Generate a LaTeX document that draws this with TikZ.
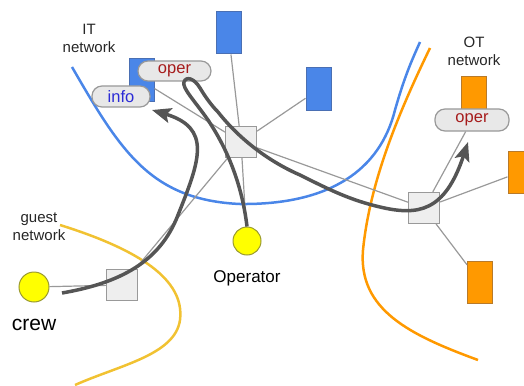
\documentclass[tikz,border=0pt]{standalone}
\usepackage{fontspec}
\setmainfont{Liberation Sans}
\usetikzlibrary{arrows.meta}
\definecolor{itblue}{HTML}{4A86E8}
\definecolor{itblueb}{HTML}{3C6BC0}
\definecolor{otorange}{HTML}{FF9900}
\definecolor{otorangeb}{HTML}{B87A2A}
\definecolor{guestyel}{HTML}{F1C232}
\definecolor{linkgray}{HTML}{999999}
\definecolor{flowgray}{HTML}{555555}
\definecolor{swfill}{HTML}{EEEEEE}
\definecolor{pillfill}{HTML}{E8E8E8}
\definecolor{opertext}{HTML}{A61C1C}
\definecolor{infotext}{HTML}{2B2BD6}
\definecolor{hostyel}{HTML}{FFFF00}
\definecolor{hostborder}{HTML}{9A9A30}
\tikzset{
  switchbox/.style={draw=linkgray, fill=swfill, line width=1.2pt, minimum width=31pt, minimum height=31pt, inner sep=0pt},
  itdev/.style={draw=itblueb!80!gray, fill=itblue, line width=1pt, minimum width=25pt, inner sep=0pt},
  otdev/.style={draw=otorangeb, fill=otorange, line width=1pt, minimum width=25pt, inner sep=0pt},
  pill/.style={draw=linkgray, fill=pillfill, line width=1.2pt, rounded corners=10pt, inner sep=0pt, font=\fontsize{16.5}{18}\selectfont},
  host/.style={circle, draw=hostborder, fill=hostyel, line width=1pt, inner sep=0pt},
  link/.style={draw=linkgray, line width=1.2pt},
  flow/.style={draw=flowgray, line width=3.5pt, -{Stealth[length=19pt,width=15pt,inset=4pt]}},
  netlabel/.style={align=center, font=\fontsize{15}{18}\selectfont, text=black!85},
  boundary/.style={line width=2.5pt}
}
\begin{document}
\begin{tikzpicture}[x=1pt,y=-1pt]
\useasboundingbox (0,0) rectangle (524,385);
% network boundaries
\draw[boundary, itblue] (72,67) .. controls (120,150) and (150,200) .. (240,204)
  .. controls (330,205) and (380,170) .. (395,110) .. controls (405,75) and (412,60) .. (420,42);
\draw[boundary, otorange] (430,48) .. controls (400,110) and (370,180) .. (363,250)
  .. controls (358,310) and (410,335) .. (478,360);
\draw[boundary, guestyel] (60,225) .. controls (140,250) and (185,280) .. (180,320)
  .. controls (175,355) and (120,365) .. (75,385);
% labels
\node[netlabel] (itlab) at (89,38) {IT\\network};
\node[netlabel] (otlab) at (474,51) {OT\\network};
\node[netlabel] (guestlab) at (39,227) {guest\\network};
% devices
\node[itdev, minimum height=42pt] (b1) at (228.5,33) {};
\node[itdev, minimum height=43pt] (b2) at (318.5,89.5) {};
\node[itdev, minimum height=43pt] (b3) at (141.5,80.5) {};
\node[otdev, minimum height=38pt] (o1) at (473.5,96) {};
\node[otdev, minimum height=42pt] (o2) at (520.5,172) {};
\node[otdev, minimum height=42pt] (o3) at (480,282) {};
% switches and hosts
\node[switchbox] (sw1) at (241,142) {};
\node[switchbox] (sw2) at (424,208) {};
\node[switchbox] (sw3) at (122,285) {};
\node[host, minimum size=30pt] (crew) at (34,287) {};
\node[host, minimum size=28pt] (opc) at (247,241) {};
% links
\path[link] (crew) -- (sw3);
\path[link] (sw3) -- (sw1);
\path[link] (sw1) -- (b1);
\path[link] (sw1) -- (b2);
\path[link] (sw1) -- (b3);
\path[link] (sw1) -- (opc);
\path[link] (sw1) -- (sw2);
\path[link] (sw2) -- (o2);
\path[link] (sw2) -- (o3);
% redraw nodes above links
\node[switchbox] at (sw1) {};
\node[switchbox] at (sw3) {};
% pills
\node[pill, minimum width=73pt, minimum height=20pt, text=opertext] (oper1) at (174.5,71) {oper};
\node[pill, minimum width=58pt, minimum height=21pt, text=infotext] (info) at (121,96.5) {info};
\node[pill, minimum width=74pt, minimum height=22pt, text=opertext] (oper2) at (472,120) {oper};
\path[link] (sw2) -- (oper2);
\node[switchbox] at (sw2) {};
% text labels
\node[font=\fontsize{17}{20}\selectfont] (oplab) at (247,278) {Operator};
\node[font=\fontsize{21}{24}\selectfont] (crewlab) at (34,325) {crew};
% flows
\coordinate (f1s) at (62,293);
\coordinate (f1e) at (152,110);
\coordinate (f2e) at (468,142);
\draw[flow] (f1s) .. controls (120,283) and (160,262) .. (178,215)
  .. controls (200,160) and (212,128) .. (f1e);
\draw[flow] (opc.north) .. controls (242,185) and (228,150) .. (208,120)
  .. controls (194,100) and (182,88) .. (184,82)
  .. controls (186,76) and (194,78) .. (200,88)
  .. controls (206,98) and (212,106) .. (218,112)
  .. controls (240,140) and (270,162) .. (300,175)
  .. controls (330,190) and (350,200) .. (380,207)
  .. controls (418,216) and (445,212) .. (f2e);
\end{tikzpicture}
\end{document}
